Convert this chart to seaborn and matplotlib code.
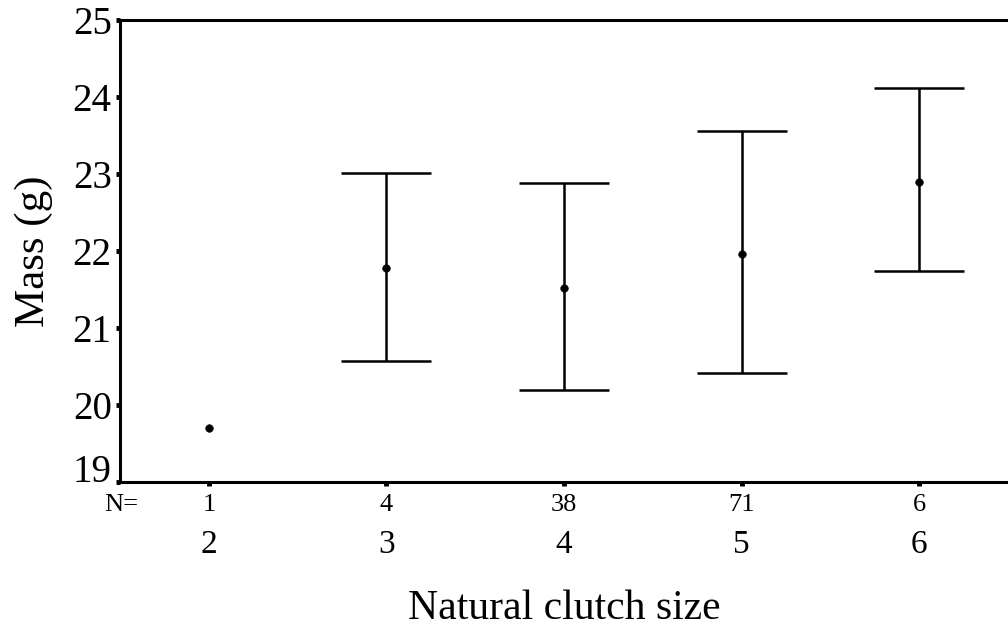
import numpy as np
import pandas as pd
import matplotlib
matplotlib.use("Agg")
import matplotlib.pyplot as plt
import matplotlib.transforms as mtransforms
import seaborn as sns

# --------------------  DATOS  --------------------
clutch_size = [2, 3, 4, 5, 6]
n_birds     = [1, 4, 38, 71, 6]
mass_mean   = [19.70, 21.78, 21.52, 21.96, 22.90]
mass_upper  = [np.nan, 23.01, 22.88, 23.56, 24.12]
mass_lower  = [np.nan, 20.57, 20.19, 20.42, 21.74]

df = pd.DataFrame({"clutch": clutch_size, "N": n_birds,
                   "mean": mass_mean, "upper": mass_upper, "lower": mass_lower})

# --------------------  ESTILO  --------------------
sns.set_style("white")
plt.rcParams["font.family"] = ["Liberation Serif", "DejaVu Serif"]
plt.rcParams["text.color"] = "black"
plt.rcParams["axes.labelcolor"] = "black"

fig = plt.figure(figsize=(10.08, 6.33), dpi=100)
ax = fig.add_axes([120 / 1008, 151 / 633, 888 / 1008, 462 / 633])

# barras de error (solo donde hay más de un dato)
has_err = df["upper"].notna()
ax.errorbar(df.loc[has_err, "clutch"], df.loc[has_err, "mean"],
            yerr=[df.loc[has_err, "mean"] - df.loc[has_err, "lower"],
                  df.loc[has_err, "upper"] - df.loc[has_err, "mean"]],
            fmt="none", ecolor="black", elinewidth=1.8,
            capsize=32.4, capthick=1.8, zorder=2)

# medias
sns.scatterplot(data=df, x="clutch", y="mean", ax=ax, color="black",
                marker="o", s=30, edgecolor="black", zorder=3, legend=False)

ax.set_xlim(1.5, 6.5)
ax.set_ylim(19, 25)
ax.set_yticks(range(19, 26))
ax.set_xticks(clutch_size)
ax.set_xticklabels([str(c) for c in clutch_size])

for side in ["left", "top", "bottom"]:
    ax.spines[side].set_linewidth(2.2)
    ax.spines[side].set_color("black")
ax.spines["right"].set_visible(False)

ax.tick_params(axis="y", left=True, direction="out", length=3, width=3.5,
               pad=3, labelsize=28, colors="black")
ax.tick_params(axis="x", bottom=True, direction="out", length=3, width=3.5,
               pad=31, labelsize=24, colors="black")

# el "19" va apoyado sobre el eje, como en el original
ax.get_yticklabels()[0].set_verticalalignment("baseline")

# N por grupo
trans = mtransforms.blended_transform_factory(ax.transData, ax.transAxes)
for c, n in zip(clutch_size, n_birds):
    ax.text(c, -0.05, str(n), transform=trans, ha="center", va="center",
            fontsize=19)
ax.text(121 / 1008, 1 - 505 / 633, "N=", transform=fig.transFigure,
        ha="center", va="center", fontsize=19)

ax.set_xlabel("Natural clutch size", fontsize=30)
ax.set_ylabel("Mass (g)", fontsize=31)
ax.xaxis.set_label_coords(0.5, -0.232)
ax.yaxis.set_label_coords(-0.075, 0.5)

ax.grid(False)
plt.savefig("out.png", dpi=100)
